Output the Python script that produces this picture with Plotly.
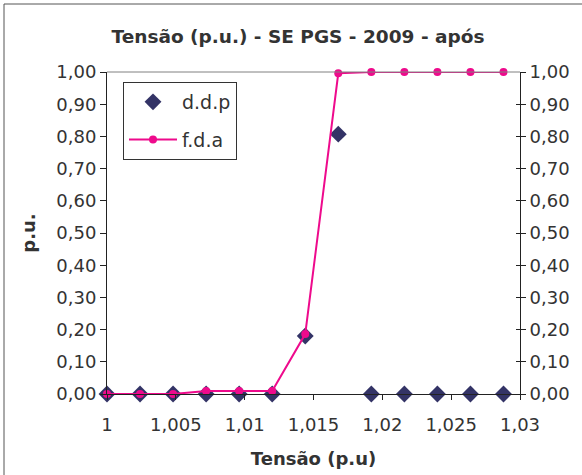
import plotly.graph_objects as go

# Voltage bins (p.u.) and the two distributions
tensao = [1.0000, 1.0024, 1.0048, 1.0072, 1.0096, 1.0120, 1.0144,
          1.0168, 1.0192, 1.0216, 1.0240, 1.0264, 1.0288]
ddp = [0.0, 0.0, 0.0, 0.0, 0.0, 0.0, 0.18, 0.807, 0.0, 0.0, 0.0, 0.0, 0.0]
fda = [0.0, 0.0, 0.0, 0.009, 0.009, 0.009, 0.186, 0.996, 1.0, 1.0, 1.0, 1.0, 1.0]

x_ticks = [1.0, 1.005, 1.01, 1.015, 1.02, 1.025, 1.03]
x_labels = ["1", "1,005", "1,01", "1,015", "1,02", "1,025", "1,03"]

FONT = "DejaVu Sans"
TXT = "#333333"
AX = "#222222"
W, H = 582, 475
L, R, T, B = 107, 520, 72, 394

fig = go.Figure()
fig.add_trace(go.Scatter(
    x=tensao, y=ddp, mode="markers", name="d.d.p",
    marker=dict(symbol="diamond", size=13, color="#333366"),
    cliponaxis=False, legendgroup="a"))
fig.add_trace(go.Scatter(
    x=tensao, y=fda, mode="lines+markers", name="f.d.a",
    line=dict(color="#EE0A8C", width=2),
    marker=dict(symbol="circle", size=8, color="#EE0A8C"),
    cliponaxis=False, legendgroup="b"))
# invisible traces carrying the right-hand axis (outer and inner tick marks)
for ax in ("y2", "y3"):
    fig.add_trace(go.Scatter(x=[1.0], y=[0.0], yaxis=ax, mode="markers",
                             marker=dict(opacity=0), showlegend=False,
                             hoverinfo="skip"))

def px_x(p):
    return (p - L) / (R - L)

def px_y(p):
    return (B - p) / (B - T)

fig.update_layout(
    width=W, height=H,
    margin=dict(l=L, r=W - R, t=T, b=H - B, autoexpand=False),
    paper_bgcolor="white", plot_bgcolor="white",
    separators=",.",
    font=dict(family=FONT, size=18, color=TXT),
    title=dict(text="<b>Tensão (p.u.) - SE PGS - 2009 - após</b>",
               x=298 / W, xanchor="center", y=1 - 37 / H, yanchor="middle",
               font=dict(family=FONT, size=18.5, color=TXT)),
    showlegend=True,
    legend=dict(x=px_x(123), y=px_y(82), xanchor="left", yanchor="top",
                bgcolor="white", bordercolor="#333333", borderwidth=1,
                font=dict(family=FONT, size=19, color=TXT),
                tracegroupgap=10, itemwidth=48),
    xaxis=dict(range=[1.0, 1.03], tickvals=x_ticks, ticktext=x_labels,
               automargin=False,
               showgrid=False, zeroline=False, showline=True,
               linecolor=AX, linewidth=1,
               ticks="outside", ticklen=5, tickcolor=AX,
               ticklabelstandoff=9,
               tickfont=dict(family=FONT, size=18, color=TXT),
               title=dict(text="<b>Tensão (p.u)</b>", standoff=18,
                          font=dict(family=FONT, size=18, color=TXT))),
    yaxis=dict(range=[0, 1.0], dtick=0.1, tickformat=".2f",
               automargin=False,
               showgrid=False, zeroline=False, showline=True,
               linecolor=AX, linewidth=1,
               ticks="outside", ticklen=6, tickcolor=AX,
               tickfont=dict(family=FONT, size=18, color=TXT),
               title=dict(text="<b>p.u.</b>", standoff=16,
                          font=dict(family=FONT, size=18, color=TXT))),
    yaxis2=dict(range=[0, 1.0], dtick=0.1, tickformat=".2f",
                overlaying="y", side="right", automargin=False,
                showgrid=False, zeroline=False, showline=True,
                linecolor=AX, linewidth=1,
                ticks="outside", ticklen=5, tickcolor=AX,
                tickfont=dict(family=FONT, size=18, color=TXT)),
    yaxis3=dict(range=[0, 1.0], dtick=0.1, overlaying="y", side="right",
                automargin=False,
                showgrid=False, zeroline=False, showline=False,
                ticks="inside", ticklen=4, tickcolor=AX,
                showticklabels=False),
    shapes=[
        # top edge of the plot area
        dict(type="line", xref="paper", yref="paper", x0=0, x1=1, y0=1, y1=1,
             line=dict(color="#808080", width=1)),
        # outer chart frame (left and top edges)
        dict(type="line", xref="paper", yref="paper",
             x0=px_x(4), x1=px_x(4), y0=px_y(4), y1=px_y(480),
             line=dict(color="#555555", width=1)),
        dict(type="line", xref="paper", yref="paper",
             x0=px_x(4), x1=px_x(590), y0=px_y(4), y1=px_y(4),
             line=dict(color="#555555", width=1)),
    ],
)

fig.write_html("out.html")
